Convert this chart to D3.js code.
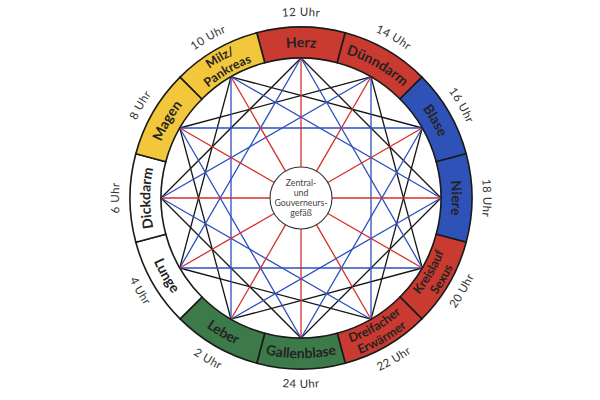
<!DOCTYPE html>
<html><head><meta charset="utf-8">
<script src="https://cdn.jsdelivr.net/npm/d3@7"></script>
<style>html,body{margin:0;padding:0;background:#fff;}svg{display:block;}</style>
</head><body>
<svg id="chart" width="600" height="400"></svg>
<script>
// ---- data ----
const organs = [["Herz"],["Dünndarm"],["Blase"],["Niere"],["Kreislauf","Sexus"],["Dreifacher","Erwärmer"],
  ["Gallenblase"],["Leber"],["Lunge"],["Dickdarm"],["Magen"],["Milz/","Pankreas"]];
const organElement = ["fire","fire","water","water","fire","fire","wood","wood","metal","metal","earth","earth"];
const hourLabels = ["12 Uhr","14 Uhr","16 Uhr","18 Uhr","20 Uhr","22 Uhr","24 Uhr","2 Uhr","4 Uhr","6 Uhr","8 Uhr","10 Uhr"];
const chordSteps = [3, 4];
const chordKinds = ["square", "triangle"];
const centerText = ["Zentral-","und","Gouverneurs-","gefäß"];

// ---- styles ----
const elementColor = d3.scaleOrdinal()
  .domain(["fire","water","wood","metal","earth"])
  .range(["#c93a30","#2f52b8","#3d7a4a","#ffffff","#f2c73c"]);
const chordColor = d3.scaleOrdinal().domain(["square","triangle"]).range(["#151515","#2c4fc0"]);
const spokeColor = "#d3302c";

const cx = 301, cy = 198, rOuter = 171, rInner = 140, rCenter = 31;
const n = organs.length;
const angle = d3.scaleLinear().domain([0, n]).range([0, 2*Math.PI]);
const svg = d3.select("#chart");
const g = svg.append("g").attr("transform", `translate(${cx},${cy})`);
const defs = svg.append("defs");
const pt = (i, r) => d3.pointRadial(angle(i), r);

// chords
chordSteps.forEach((s, k) => {
  const pairs = d3.range(n).map(i => [i, (i + s) % n]);
  g.append("g").selectAll("line").data(pairs).join("line")
    .attr("x1", d => pt(d[0], rInner)[0]).attr("y1", d => pt(d[0], rInner)[1])
    .attr("x2", d => pt(d[1], rInner)[0]).attr("y2", d => pt(d[1], rInner)[1])
    .attr("stroke", chordColor(chordKinds[k])).attr("stroke-width", 1.3);
});
// spokes
g.append("g").selectAll("line").data(d3.range(n)).join("line")
  .attr("x1", i => pt(i, rCenter)[0]).attr("y1", i => pt(i, rCenter)[1])
  .attr("x2", i => pt(i, rInner)[0]).attr("y2", i => pt(i, rInner)[1])
  .attr("stroke", spokeColor).attr("stroke-width", 1.3);

// center circle
g.append("circle").attr("r", rCenter).attr("fill", "#fff").attr("stroke", "#333").attr("stroke-width", 1.1);
g.append("g").selectAll("text").data(centerText).join("text")
  .attr("x", 0).attr("y", (d, i) => (i - (centerText.length - 1) / 2) * 10)
  .attr("dy", "0.35em").attr("text-anchor", "middle")
  .attr("font-family", "Lato, 'Open Sans', sans-serif").attr("font-size", 8.8)
  .attr("fill", "#444").text(d => d);

// ring segments
const arc = d3.arc().innerRadius(rInner).outerRadius(rOuter);
g.append("g").selectAll("path").data(d3.range(n)).join("path")
  .attr("d", i => arc({startAngle: angle(i - 0.5), endAngle: angle(i + 0.5)}))
  .attr("fill", i => elementColor(organElement[i]))
  .attr("stroke", "#1a1a1a").attr("stroke-width", 1.6);

// curved text helper
let pid = 0;
function curvedText(i, lines, rMid, fs, lh, opts) {
  const deg = angle(i) * 180 / Math.PI;
  const cw = (deg <= 90.01 || deg >= 269.99);
  const span = 0.9; // in segment units
  lines.forEach((txt, k) => {
    const nl = lines.length;
    const rc = cw ? rMid + (nl - 1) / 2 * lh - k * lh : rMid - (nl - 1) / 2 * lh + k * lh;
    const r = cw ? rc - 0.34 * fs : rc + 0.34 * fs;
    const a0 = pt(cw ? i - span : i + span, r), a1 = pt(cw ? i + span : i - span, r);
    const id = "tp" + (pid++);
    defs.append("path").attr("id", id)
      .attr("d", `M${a0[0]+cx},${a0[1]+cy} A${r},${r} 0 0 ${cw ? 1 : 0} ${a1[0]+cx},${a1[1]+cy}`);
    svg.append("text").attr("font-family", opts.family).attr("font-size", fs)
      .attr("font-weight", opts.weight).attr("fill", opts.fill)
      .attr("letter-spacing", opts.ls || 0)
      .append("textPath").attr("href", "#" + id).attr("startOffset", "50%")
      .attr("text-anchor", "middle").text(txt);
  });
}

organs.forEach((lines, i) => {
  const fs = lines.length > 1 ? 12.5 : 14;
  curvedText(i, lines, (rInner + rOuter) / 2, fs, 14,
    {family: "Lato, 'Open Sans', sans-serif", weight: 700, fill: "#232323"});
});
hourLabels.forEach((h, i) => {
  curvedText(i, [h], 186, 11.5, 0, {family: "Lato, 'Open Sans', sans-serif", weight: 400, fill: "#333", ls: 0.4});
});
</script>
</body></html>
